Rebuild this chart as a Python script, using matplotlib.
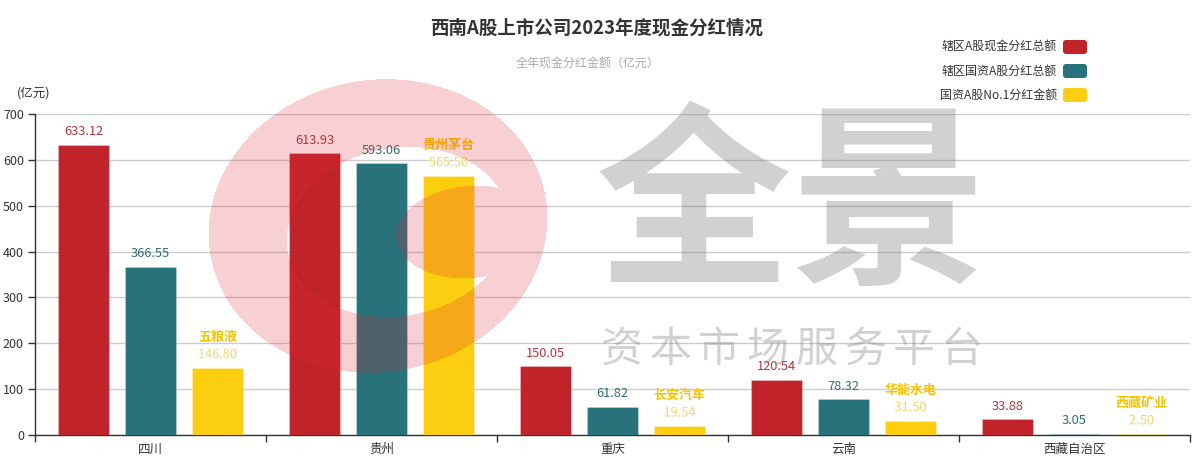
import numpy as np
import matplotlib
matplotlib.use("Agg")
import matplotlib.pyplot as plt
from matplotlib.patches import FancyBboxPatch
import matplotlib.patheffects as pe

plt.rcParams['font.family'] = ['Noto Sans CJK SC', 'DejaVu Sans']

# ---------------- data ----------------
categories = ['四川', '贵州', '重庆', '云南', '西藏自治区']
series_names = ['辖区A股现金分红总额', '辖区国资A股分红总额', '国资A股No.1分红金额']
total_div = [633.12, 613.93, 150.05, 120.54, 33.88]
soe_div = [366.55, 593.06, 61.82, 78.32, 3.05]
top_soe_div = [146.80, 565.50, 19.54, 31.50, 2.50]
top_soe_names = ['五粮液', '贵州茅台', '长安汽车', '华能水电', '西藏矿业']
y_ticks = [0, 100, 200, 300, 400, 500, 600, 700]

title = '西南A股上市公司2023年度现金分红情况'
subtitle = '全年现金分红金额（亿元）'
y_unit = '(亿元)'

colors = ['#C1232B', '#27727B', '#FCCE10']
label_colors = ['#B8333A', '#2F6E76', '#F3D568']
name_color = '#F7C500'

W, H = 1202, 476
fig = plt.figure(figsize=(W / 100, H / 100), dpi=100)

def px(v):
    return v * 0.72

# ---------------- main axes ----------------
ax_l, ax_r, ax_t, ax_b = 35, 1190, 114, 435
ax = fig.add_axes([ax_l / W, 1 - ax_b / H, (ax_r - ax_l) / W, (ax_b - ax_t) / H])
ax.set_xlim(-0.5, len(categories) - 0.5)
ax.set_ylim(0, 700)

offsets = [-0.29, 0.0, 0.29]
bw = 0.225
x = np.arange(len(categories))
all_series = [total_div, soe_div, top_soe_div]
for s, (vals, off) in enumerate(zip(all_series, offsets)):
    ax.bar(x + off, vals, width=bw, color=colors[s], zorder=3,
           edgecolor=(1, 1, 1, 0.25), linewidth=0.8)
    for i, v in enumerate(vals):
        ax.annotate(f'{v:.2f}', (x[i] + off, v), xytext=(0, 13),
                    textcoords='offset pixels', ha='center', va='center',
                    fontsize=px(12.8), color=label_colors[s], zorder=6,
                    path_effects=[pe.withStroke(linewidth=1.5, foreground='white')] if s == 2 else None)
        if s == 2:
            ax.annotate(top_soe_names[i], (x[i] + off, v), xytext=(0, 31),
                        textcoords='offset pixels', ha='center', va='center',
                        fontsize=px(13), color=name_color, fontweight='bold', zorder=6)

ax.set_yticks(y_ticks)
ax.set_yticklabels([str(t) for t in y_ticks], fontsize=px(12.5), color='#333333')
ax.tick_params(axis='y', length=5, width=1, color='#333333', pad=3)
ax.yaxis.grid(True, color='#cccccc', linewidth=1, zorder=0)
ax.set_axisbelow(True)

ax.set_xticks(x)
ax.set_xticklabels(categories, fontsize=px(12.5), color='#333333')
ax.tick_params(axis='x', which='major', length=0, pad=6)
ax.set_xticks(np.arange(-0.5, len(categories), 1.0), minor=True)
ax.tick_params(axis='x', which='minor', length=5, width=1, color='#333333')

for side in ['top', 'right']:
    ax.spines[side].set_visible(False)
for side in ['left', 'bottom']:
    ax.spines[side].set_color('#333333')
    ax.spines[side].set_linewidth(1)
ax.set_facecolor('none')

# ---------------- overlay (watermark, title, legend) ----------------
ov = fig.add_axes([0, 0, 1, 1], zorder=5)
ov.set_xlim(0, W)
ov.set_ylim(H, 0)
ov.axis('off')
ov.patch.set_alpha(0)

# pink swirl logo (approximation)
gx, gy = np.meshgrid(np.arange(W) + 0.5, np.arange(H) + 0.5)

def inside(cx, cy, a, b, deg):
    t = np.deg2rad(deg)
    dx, dy = gx - cx, gy - cy
    u = dx * np.cos(t) + dy * np.sin(t)
    v = -dx * np.sin(t) + dy * np.cos(t)
    return (u / a) ** 2 + (v / b) ** 2 <= 1

outer = inside(378, 226, 170, 146, -10)
hole = inside(398, 232, 112, 84, -10)
blob = inside(470, 232, 74, 46, -5)
mask = outer & ~(hole & ~blob)
img = np.zeros((H, W, 4))
img[..., 0] = 224 / 255
img[..., 1] = 40 / 255
img[..., 2] = 55 / 255
img[..., 3] = mask * 0.22
ov.imshow(img, extent=(0, W, H, 0), interpolation='bilinear', zorder=1)

wm_color = (0.5, 0.5, 0.5, 0.36)
ov.text(792, 212, '全景', fontsize=px(196), color=wm_color, ha='center', va='center',
        fontweight='bold', zorder=2)
wm_chars = '资本市场服务平台'
for k, ch in enumerate(wm_chars):
    ov.text(622 + k * 48.6, 350, ch, fontsize=px(42), color=wm_color,
            ha='center', va='center', zorder=2)

# title
ov.text(597, 28, title, fontsize=px(18.5), fontweight='bold', color='#333333',
        ha='center', va='center', zorder=10)
ov.text(588, 64, subtitle, fontsize=px(12), color='#aaaaaa', ha='center', va='center', zorder=10)
ov.text(34, 93, y_unit, fontsize=px(12.5), color='#333333', ha='center', va='center', zorder=10)

# legend
for k, name in enumerate(series_names):
    cy = 47 + k * 24
    ov.add_patch(FancyBboxPatch((1063, cy - 7), 24, 14,
                                boxstyle='round,pad=0,rounding_size=3',
                                facecolor=colors[k], edgecolor='none', zorder=10))
    ov.text(1057, cy, name, fontsize=px(12), color='#333333', ha='right', va='center', zorder=10)

fig.savefig('out.png', dpi=100)
